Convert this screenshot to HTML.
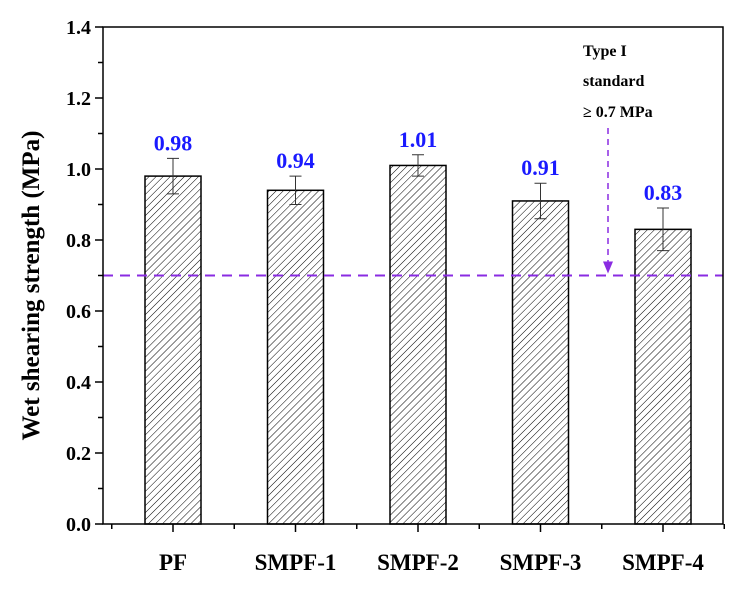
<!DOCTYPE html>
<html><head><meta charset="utf-8"><style>
body{margin:0;background:#fff}
text{font-family:"Liberation Serif",serif;font-weight:bold}
</style></head><body>
<svg id="chart" width="742" height="586" viewBox="0 0 742 586" xmlns="http://www.w3.org/2000/svg">
<defs>
<pattern id="hatch" patternUnits="userSpaceOnUse" width="5" height="5" patternTransform="rotate(45)">
<line x1="0" y1="0" x2="0" y2="5" stroke="#000" stroke-width="1"/>
</pattern>
</defs>
<g id="plot"></g>
</svg>
<script>
const categories=["PF","SMPF-1","SMPF-2","SMPF-3","SMPF-4"];
const values=[0.98,0.94,1.01,0.91,0.83];
const errLow=[0.93,0.90,0.98,0.86,0.77];
const errHigh=[1.03,0.98,1.04,0.96,0.89];
const yTicks=[0,0.2,0.4,0.6,0.8,1.0,1.2,1.4];
const standard=0.7;

const L=103,R=723,T=27,B=524;
const y=v=>B-(v/1.4)*(B-T);
const x=i=>173+i*122.5;
const NS="http://www.w3.org/2000/svg";
const g=document.getElementById('plot');
function mk(tag,attrs,txt){const e=document.createElementNS(NS,tag);for(const k in attrs)e.setAttribute(k,attrs[k]);if(txt!==undefined)e.textContent=txt;g.appendChild(e);return e;}

categories.forEach((c,i)=>{
  const b=mk('rect',{x:x(i)-28,y:y(values[i]),width:56,height:B-y(values[i]),fill:'url(#hatch)',stroke:'#000','stroke-width':1.5});
  
  
  const e=mk('path',{d:`M${x(i)} ${y(errHigh[i])}V${y(errLow[i])}M${x(i)-6} ${y(errHigh[i])}H${x(i)+6}M${x(i)-6} ${y(errLow[i])}H${x(i)+6}`,stroke:'#333','stroke-width':1,fill:'none'});
  
  
  const t=mk('text',{x:x(i),y:y(errHigh[i])-8,'text-anchor':'middle','font-size':22,fill:'#1a1aff'},values[i].toFixed(2));
  
  
  const xl=mk('text',{x:x(i),y:570,'text-anchor':'middle','font-size':23,fill:'#000'},c);
  
  
  const tk=mk('line',{x1:x(i),x2:x(i),y1:B,y2:B+8,stroke:'#000','stroke-width':1.5});
  
  
});
for(let i=0;i<=5;i++){
  const mx=x(i)-61.25;
  const m=mk('line',{x1:mx,x2:mx,y1:B,y2:B+5,stroke:'#000','stroke-width':1.5});
  
  
}
yTicks.forEach((v,i)=>{
  const t=mk('line',{x1:L-8,x2:L,y1:y(v),y2:y(v),stroke:'#000','stroke-width':1.5});
  
  
  if(i<yTicks.length-1){const m=mk('line',{x1:L-5,x2:L,y1:y(v+0.1),y2:y(v+0.1),stroke:'#000','stroke-width':1.5});
  
  }
  const l=mk('text',{x:L-12,y:y(v)+7,'text-anchor':'end','font-size':20,fill:'#000'},v.toFixed(1));
  
  
});
const sl=mk('line',{x1:L,x2:R,y1:y(standard),y2:y(standard),stroke:'#8a2be2','stroke-width':2,'stroke-dasharray':'10,7'});


const ar=mk('path',{d:`M608 128V${y(standard)-10}`,stroke:'#8a2be2','stroke-width':1.5,'stroke-dasharray':'6,5',fill:'none'});


const ah=mk('path',{d:`M603 ${y(standard)-14}L613 ${y(standard)-14}L608 ${y(standard)-2}Z`,fill:'#8a2be2'});


[["Type I",56],["standard",86],["\u2265 0.7 MPa",117]].forEach(([s,yy])=>{
  const a=mk('text',{x:583,y:yy,'font-size':16,fill:'#000'},s);
  
  
});
const fr=mk('rect',{x:L,y:T,width:R-L,height:B-T,fill:'none',stroke:'#000','stroke-width':1.5});


const yt=mk('text',{x:0,y:0,transform:`translate(39 ${(T+B)/2+10}) rotate(-90)`,'text-anchor':'middle','font-size':25,fill:'#000'},'Wet shearing strength (MPa)');


</script>
</body></html>
